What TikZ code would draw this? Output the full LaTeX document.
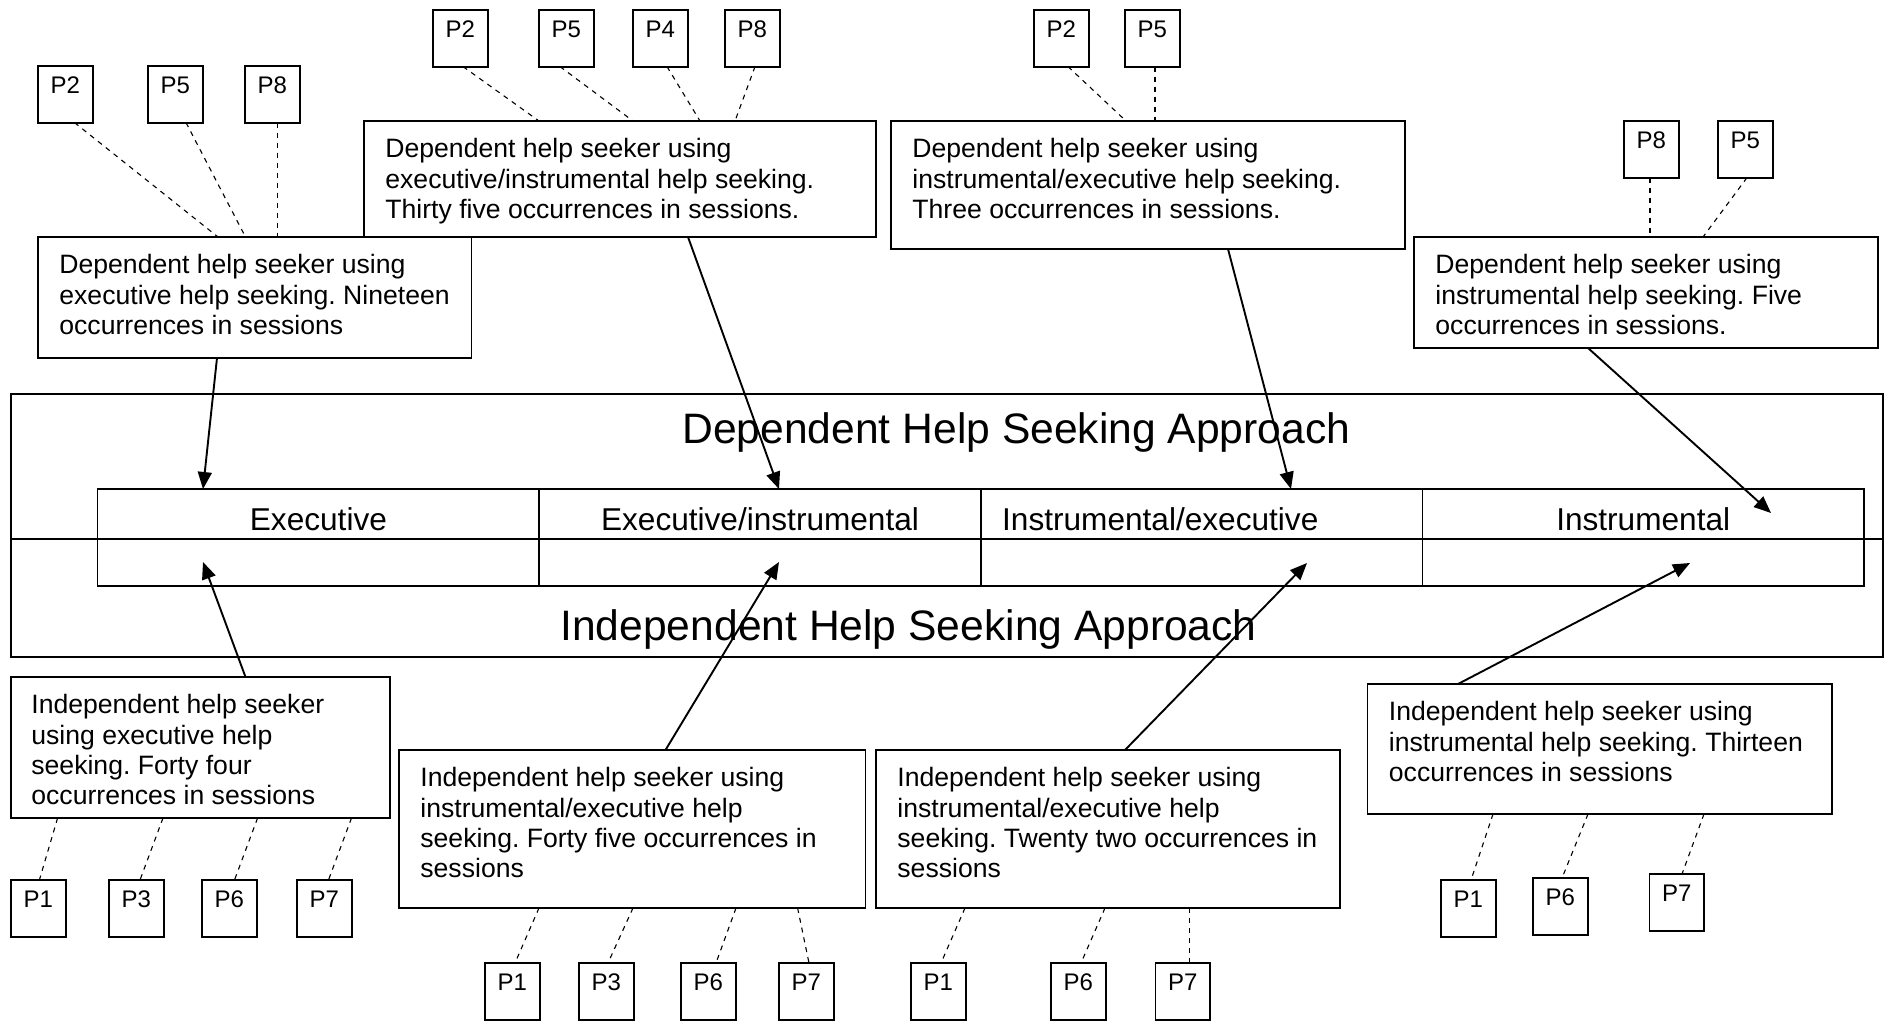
\documentclass[tikz,border=0pt]{standalone}
\usepackage{fontspec}
\setmainfont{Liberation Sans}
\usetikzlibrary{arrows.meta,calc}
\frenchspacing
\begin{document}
\begin{tikzpicture}[x=0.5pt,y=-0.5pt,
  box/.style={draw, line width=0.95pt, anchor=north west, inner sep=0pt, outer sep=0pt},
  btext/.style={anchor=north west, align=left, inner sep=0pt, font=\fontsize{13.3}{15.2}\selectfont},
  pbox/.style={draw, line width=0.95pt, minimum width=27.3pt, minimum height=28.3pt, inner sep=0pt, outer sep=0pt,
    anchor=north west, font=\fontsize{12}{14}\selectfont, text height=8.6pt, text depth=9.6pt},
  link/.style={dash pattern=on 2.5pt off 2.5pt, line width=0.55pt},
  arr/.style={line width=0.95pt, -{Triangle[length=8.5pt,width=7pt]}},
  cell/.style={draw, line width=0.8pt, anchor=north west, minimum width=220.8pt, inner sep=0pt, outer sep=0pt},
  ctext/.style={font=\fontsize{15.8}{18}\selectfont, inner sep=0pt},
  ttl/.style={font=\fontsize{21.3}{25}\selectfont, inner sep=0pt, anchor=base west}
]
\useasboundingbox (0,0) rectangle (1889,1021);

% frame holding both approaches
\node[box, minimum width=936pt, minimum height=131.5pt] (outer) at (11,394) {};

% table of help seeking types
\node[cell, minimum height=25pt] (c1t) at (97.6,489) {};
\node[cell, minimum height=25pt] (c2t) at (539.2,489) {};
\node[cell, minimum height=25pt] (c3t) at (980.8,489) {};
\node[cell, minimum height=25pt] (c4t) at (1422.4,489) {};
\node[cell, minimum height=23.5pt] (c1b) at (97.6,539) {};
\node[cell, minimum height=23.5pt] (c2b) at (539.2,539) {};
\node[cell, minimum height=23.5pt] (c3b) at (980.8,539) {};
\node[cell, minimum height=23.5pt] (c4b) at (1422.4,539) {};
\draw[line width=0.95pt] (outer.west |- c1b.north) -- (outer.east |- c1b.north);

\node[ctext, anchor=base] (e1) at ($(c1t.north)+(0,41)$) {Executive};
\node[ctext, anchor=base] (e2) at ($(c2t.north)+(0,41)$) {Executive/instrumental};
\node[ctext, anchor=base west] (e3) at ($(c3t.north west)+(21,41)$) {Instrumental/executive};
\node[ctext, anchor=base] (e4) at ($(c4t.north)+(0,41)$) {Instrumental};

\node[ttl] (tdep) at (682,444) {Dependent Help Seeking Approach};
\node[ttl] (tind) at (560,640) {Independent Help Seeking Approach};

% dependent help seeker boxes
\node[box, minimum width=216.75pt, minimum height=60.5pt] (d1) at (38,237) {};
\node[btext] (d1t) at ($(d1.north west)+(21,15)$) {\strut Dependent help seeker using\\executive help seeking. Nineteen\\occurrences in sessions};
\node[box, minimum width=256pt, minimum height=58pt] (d2) at (364,121) {};
\node[btext] (d2t) at ($(d2.north west)+(21,15)$) {\strut Dependent help seeker using\\executive/instrumental help seeking.\\Thirty five occurrences in sessions.};
\node[box, minimum width=257pt, minimum height=64pt] (d3) at (891,121) {};
\node[btext] (d3t) at ($(d3.north west)+(21,15)$) {\strut Dependent help seeker using\\instrumental/executive help seeking.\\Three occurrences in sessions.};
\node[box, minimum width=232pt, minimum height=55.5pt] (d4) at (1414,237) {};
\node[btext] (d4t) at ($(d4.north west)+(21,15)$) {\strut Dependent help seeker using\\instrumental help seeking. Five\\occurrences in sessions.};

% independent help seeker boxes
\node[box, minimum width=189.5pt, minimum height=70.5pt] (i1) at (11,677) {};
\node[btext] (i1t) at ($(i1.north west)+(20,15)$) {\strut Independent help seeker\\using executive help\\seeking. Forty four\\occurrences in sessions};
\node[box, minimum width=233.25pt, minimum height=79pt] (i2) at (399,750) {};
\node[btext] (i2t) at ($(i2.north west)+(21,15)$) {\strut Independent help seeker using\\instrumental/executive help\\seeking. Forty five occurrences in\\sessions};
\node[box, minimum width=232pt, minimum height=79pt] (i3) at (876,750) {};
\node[btext] (i3t) at ($(i3.north west)+(21,15)$) {\strut Independent help seeker using\\instrumental/executive help\\seeking. Twenty two occurrences in\\sessions};
\node[box, minimum width=232.25pt, minimum height=65pt] (i4) at (1367.5,684) {};
\node[btext] (i4t) at ($(i4.north west)+(21,15)$) {\strut Independent help seeker using\\instrumental help seeking. Thirteen\\occurrences in sessions};

% participants
\node[pbox] (pa2) at (38,66) {P2};
\node[pbox] (pa5) at (148,66) {P5};
\node[pbox] (pa8) at (245,66) {P8};
\node[pbox] (pb2) at (433,10) {P2};
\node[pbox] (pb5) at (539,10) {P5};
\node[pbox] (pb4) at (633,10) {P4};
\node[pbox] (pb8) at (725,10) {P8};
\node[pbox] (pc2) at (1034,10) {P2};
\node[pbox] (pc5) at (1125,10) {P5};
\node[pbox] (pd8) at (1624,121) {P8};
\node[pbox] (pd5) at (1718,121) {P5};
\node[pbox] (pe1) at (11,880) {P1};
\node[pbox] (pe3) at (109,880) {P3};
\node[pbox] (pe6) at (202,880) {P6};
\node[pbox] (pe7) at (297,880) {P7};
\node[pbox] (pf1) at (485,963) {P1};
\node[pbox] (pf3) at (579,963) {P3};
\node[pbox] (pf6) at (681,963) {P6};
\node[pbox] (pf7) at (779,963) {P7};
\node[pbox] (pg1) at (911,963) {P1};
\node[pbox] (pg6) at (1051,963) {P6};
\node[pbox] (pg7) at (1155.5,963) {P7};
\node[pbox] (ph1) at (1441,880) {P1};
\node[pbox] (ph6) at (1533,878) {P6};
\node[pbox] (ph7) at (1649.5,874) {P7};

% participant links
\draw[link] ($(pa2.south west)+(36.5,0)$) -- ($(d1.north west)+(180,0)$);
\draw[link] ($(pa5.south west)+(38,0)$) -- ($(d1.north west)+(207.5,0)$);
\draw[link] ($(pa8.south west)+(32.5,0)$) -- ($(d1.north west)+(239.5,0)$);
\draw[link] ($(pb2.south west)+(30,0)$) -- ($(d2.north west)+(175,0)$);
\draw[link] ($(pb5.south west)+(21,0)$) -- ($(d2.north west)+(269,0)$);
\draw[link] ($(pb4.south west)+(34,0)$) -- ($(d2.north west)+(336,0)$);
\draw[link] ($(pb8.south west)+(30,0)$) -- ($(d2.north west)+(371,0)$);
\draw[link] ($(pc2.south west)+(34,0)$) -- ($(d3.north west)+(235,0)$);
\draw[link] ($(pc5.south west)+(30,0)$) -- ($(d3.north west)+(264,0)$);
\draw[link] ($(pd8.south west)+(26,0)$) -- ($(d4.north west)+(236,0)$);
\draw[link] ($(pd5.south west)+(29,0)$) -- ($(d4.north west)+(289,0)$);
\draw[link] ($(i1.south west)+(46.6,0)$) -- ($(pe1.north west)+(28.4,0)$);
\draw[link] ($(i1.south west)+(152,0)$) -- ($(pe3.north west)+(31,0)$);
\draw[link] ($(i1.south west)+(246.6,0)$) -- ($(pe6.north west)+(32.5,0)$);
\draw[link] ($(i1.south west)+(340.5,0)$) -- ($(pe7.north west)+(31.5,0)$);
\draw[link] ($(i2.south west)+(140,0)$) -- ($(pf1.north west)+(30,0)$);
\draw[link] ($(i2.south west)+(234,0)$) -- ($(pf3.north west)+(29,0)$);
\draw[link] ($(i2.south west)+(337,0)$) -- ($(pf6.north west)+(35,0)$);
\draw[link] ($(i2.south west)+(398.6,0)$) -- ($(pf7.north west)+(30,0)$);
\draw[link] ($(i3.south west)+(89,0)$) -- ($(pg1.north west)+(30,0)$);
\draw[link] ($(i3.south west)+(229,0)$) -- ($(pg6.north west)+(30,0)$);
\draw[link] ($(i3.south west)+(313.6,0)$) -- ($(pg7.north west)+(34.1,0)$);
\draw[link] ($(i4.south west)+(125.5,0)$) -- ($(ph1.north west)+(30,0)$);
\draw[link] ($(i4.south west)+(220.5,0)$) -- ($(ph6.north west)+(29,0)$);
\draw[link] ($(i4.south west)+(336.5,0)$) -- ($(ph7.north west)+(32.5,0)$);

% arrows into the table
\draw[arr] ($(d1.south west)+(179,0)$) -- ($(c1t.north west)+(105.4,0)$);
\draw[arr] ($(d2.south west)+(324,0)$) -- ($(c2t.north west)+(239.8,0)$);
\draw[arr] ($(d3.south west)+(337,0)$) -- ($(c3t.north west)+(310.2,0)$);
\draw[arr] ($(d4.south west)+(174,0)$) -- ($(c4t.north west)+(348.6,24)$);
\draw[arr] ($(i1.north west)+(234.5,0)$) -- ($(c1b.north west)+(105.4,23)$);
\draw[arr] ($(i2.north west)+(266.5,0)$) -- ($(c2b.north west)+(239.8,23)$);
\draw[arr] ($(i3.north west)+(249,0)$) -- ($(c3b.north west)+(326.2,24)$);
\draw[arr] ($(i4.north west)+(90.5,0)$) -- ($(c4b.north west)+(267.6,24)$);
\end{tikzpicture}
\end{document}
